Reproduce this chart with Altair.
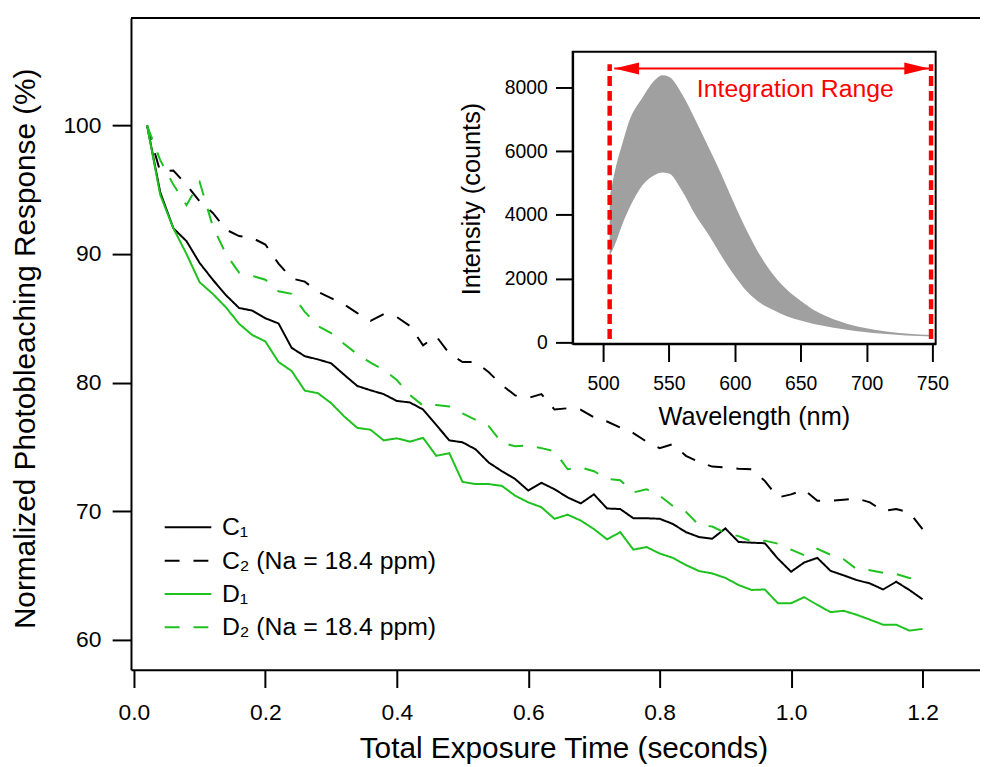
import altair as alt
import pandas as pd

# ---------------- data ----------------
time_s = [round(0.02 * k, 2) for k in range(1, 61)]

c1 = [100.0, 94.8, 92.0, 91.0, 89.3, 88.0, 86.8, 85.8, 85.6, 85.0,
      84.6, 82.7, 82.05, 81.8, 81.5, 80.6, 79.73, 79.4, 79.1, 78.57,
      78.45, 77.9, 76.7, 75.5, 75.35, 74.8, 73.77, 73.1, 72.5, 71.6,
      72.2, 71.7, 71.06, 70.6, 71.3, 70.2, 70.16, 69.44, 69.44, 69.4,
      69.0, 68.36, 67.98, 67.85, 68.65, 67.6, 67.54, 67.5, 66.3, 65.28,
      66.0, 66.36, 65.35, 65.0, 64.63, 64.37, 63.9, 64.5, 63.86, 63.14]

c2 = [100.0, 96.4, 96.5, 95.37, 94.1, 93.2, 91.9, 91.4, 91.25, 90.74,
      89.25, 88.1, 87.85, 87.05, 86.57, 86.07, 85.4, 84.8, 85.32, 85.1,
      84.4, 82.9, 83.6, 82.25, 81.6, 81.6, 80.8, 79.8, 79.0, 78.8,
      79.1, 77.9, 78.0, 77.88, 77.3, 76.97, 76.5, 76.07, 75.4, 74.9,
      75.2, 74.3, 73.8, 73.46, 73.4, 73.3, 73.25, 72.35, 71.06, 71.3,
      71.65, 70.8, 70.8, 70.88, 70.98, 70.68, 70.0, 70.16, 69.9, 68.6]

d1 = [100.0, 94.6, 92.0, 90.0, 87.8, 86.9, 85.85, 84.57, 83.7, 83.2,
      81.6, 80.9, 79.37, 79.17, 78.4, 77.36, 76.47, 76.33, 75.5, 75.66,
      75.4, 75.7, 74.3, 74.5, 72.27, 72.1, 72.1, 71.96, 71.2, 70.68,
      70.3, 69.4, 69.72, 69.26, 68.6, 67.8, 68.36, 67.0, 67.2, 66.7,
      66.36, 65.8, 65.33, 65.15, 64.8, 64.25, 63.86, 63.9, 62.83, 62.83,
      63.3, 62.7, 62.14, 62.24, 61.93, 61.55, 61.16, 61.16, 60.7, 60.83]

d2 = [100.0, 97.3, 95.4, 93.8, 95.6, 92.15, 90.0, 88.55, 88.3, 88.0,
      87.1, 86.9, 85.5, 84.4, 83.85, 83.0, 82.2, 81.55, 81.0, 80.2,
      79.03, 78.2, 78.26, 78.13, 77.6, 77.1, 76.6, 75.3, 75.05, 75.1,
      74.9, 74.66, 73.25, 73.4, 73.1, 72.5, 72.4, 71.45, 71.7, 71.2,
      70.4, 69.95, 68.9, 68.8, 68.3, 68.05, 67.64, 67.7, 67.46, 67.0,
      66.56, 67.07, 66.6, 66.25, 65.48, 65.4, 65.2, 65.1, 64.8, 64.68]

series_names = ["C\u2081", "C\u2082 (Na = 18.4 ppm)", "D\u2081", "D\u2082 (Na = 18.4 ppm)"]
series_values = [c1, c2, d1, d2]
series_colors = ["#000000", "#000000", "#1ec21e", "#1ec21e"]
series_dashes = [[1, 0], [15, 14], [1, 0], [15, 14]]

x_ticks = [0.0, 0.2, 0.4, 0.6, 0.8, 1.0, 1.2]
y_ticks = [60, 70, 80, 90, 100]

# inset: envelope of the spectra band
wavelength_nm = [505, 510, 515, 520, 530, 540, 545, 550, 560, 570, 580, 590,
                 600, 610, 620, 630, 640, 650, 660, 670, 680, 690, 700, 710,
                 720, 730, 740, 750]
spectrum_upper = [4550, 5560, 6290, 6960, 7690, 8260, 8385, 8340, 7790, 6990,
                  6130, 5250, 4310, 3430, 2670, 2080, 1630, 1300, 1010, 800,
                  645, 520, 435, 365, 310, 270, 240, 220]
spectrum_lower = [2700, 3170, 3740, 4210, 4935, 5270, 5330, 5300, 4750, 4000,
                  3380, 2700, 2080, 1560, 1215, 990, 800, 675, 570, 490,
                  415, 355, 310, 270, 240, 210, 190, 170]
inset_x_ticks = [500, 550, 600, 650, 700, 750]
inset_y_ticks = [0, 2000, 4000, 6000, 8000]

range_edges_nm = [505, 749]
range_line_bottom = 100
range_line_top = 8730
arrow_tips_nm = [508.5, 747.5]
arrow_level = 8600
range_label = "Integration Range"
range_label_nm = 646
range_label_level = 7950

# ---------------- layout ----------------
FONT = "Liberation Sans"
W, H = 856, 657

x_main = alt.Scale(domain=[-0.0045, 1.2875], nice=False, zero=False)
y_main = alt.Scale(domain=[57.66, 108.36], nice=False, zero=False)

x_inset = alt.Scale(domain=[476.9, 752.5], range=[445.3, 811.3], nice=False, zero=False)
y_inset = alt.Scale(domain=[-50, 9124], range=[328.3, 34], nice=False, zero=False)

x_axis_main = alt.Axis(values=x_ticks, format=".1f", orient="bottom",
                       title="Total Exposure Time (seconds)", titleFontSize=30,
                       titleX=436, titleY=88.5, titleBaseline="alphabetic",
                       titleAlign="center", labelFontSize=23,
                       labelBaseline="alphabetic", labelPadding=32.7,
                       tickSize=18, labelFlush=False)
y_axis_main = alt.Axis(values=y_ticks, format="d", orient="left",
                       title="Normalized Photobleaching Response (%)",
                       titleFontSize=30, titleX=-97, titleY=333,
                       titleBaseline="alphabetic", titleAlign="center",
                       titleAngle=270, labelFontSize=23, labelPadding=11.3,
                       tickSize=19, labelFlush=False)

x_axis_inset = alt.Axis(values=inset_x_ticks, format="d", orient="bottom",
                        offset=-328.7, title="Wavelength (nm)",
                        titleFontSize=25.5, titleX=628, titleY=81.7,
                        titleBaseline="alphabetic", titleAlign="center",
                        labelFontSize=19.5, labelBaseline="alphabetic",
                        labelPadding=28.7, tickSize=18, labelFlush=False)
y_axis_inset = alt.Axis(values=inset_y_ticks, format="d", orient="left",
                        offset=-445.3, title="Intensity (counts)",
                        titleFontSize=25.5, titleX=-94, titleY=182,
                        titleBaseline="alphabetic", titleAlign="center",
                        titleAngle=270, labelFontSize=19.5, labelPadding=8.3,
                        tickSize=17.3, labelFlush=False)

legend = alt.Legend(
    title=None, orient="none", legendX=33, legendY=501,
    symbolType="stroke", symbolSize=2209, symbolStrokeWidth=2,
    labelFontSize=25, labelFont=FONT, labelColor="black", labelLimit=500,
    rowPadding=7.6, clipHeight=25, labelOffset=9.7, padding=0,
)

# ---------------- main panel ----------------
rows = []
for name, vals in zip(series_names, series_values):
    for t, v in zip(time_s, vals):
        rows.append({"time": t, "value": v, "series": name})
df_lines = pd.DataFrame(rows)

lines = alt.Chart(df_lines).mark_line(strokeWidth=2, strokeCap="butt").encode(
    x=alt.X("time:Q", scale=x_main, axis=x_axis_main),
    y=alt.Y("value:Q", scale=y_main, axis=y_axis_main),
    color=alt.Color("series:N", scale=alt.Scale(domain=series_names, range=series_colors),
                    legend=legend),
    strokeDash=alt.StrokeDash("series:N",
                              scale=alt.Scale(domain=series_names, range=series_dashes),
                              legend=legend),
)

dummy = pd.DataFrame({"a": [0]})
top_rule = alt.Chart(dummy).mark_rule(color="black", strokeWidth=2).encode(
    x=alt.value(0), x2=alt.value(W), y=alt.value(0)
)

main = alt.layer(lines, top_rule)

# ---------------- inset ----------------
df_spec = pd.DataFrame({"wl": wavelength_nm, "upper": spectrum_upper, "lower": spectrum_lower})
band = alt.Chart(df_spec).mark_area(color="#a0a0a0", opacity=1, interpolate="monotone").encode(
    x=alt.X("wl:Q", scale=x_inset, axis=x_axis_inset),
    y=alt.Y("upper:Q", scale=y_inset, axis=y_axis_inset),
    y2="lower:Q",
)

frame = alt.Chart(dummy).mark_rect(filled=False, stroke="black", strokeWidth=2).encode(
    x=alt.X(datum=x_inset.domain[0], type="quantitative", scale=x_inset, axis=x_axis_inset),
    x2=alt.X2(datum=x_inset.domain[1]),
    y=alt.Y(datum=y_inset.domain[0], type="quantitative", scale=y_inset, axis=y_axis_inset),
    y2=alt.Y2(datum=y_inset.domain[1]),
)

df_edges = pd.DataFrame({"nm": range_edges_nm})
red_lines = alt.Chart(df_edges).mark_rule(color="#ff0000", strokeWidth=4.5,
                                          strokeDash=[10, 5]).encode(
    x=alt.X("nm:Q", scale=x_inset, axis=x_axis_inset),
    y=alt.Y(datum=range_line_bottom, type="quantitative", scale=y_inset, axis=y_axis_inset),
    y2=alt.Y2(datum=range_line_top),
)

df_arrow = pd.DataFrame({"x1": [arrow_tips_nm[0]], "x2": [arrow_tips_nm[1]], "lvl": [arrow_level]})
arrow_line = alt.Chart(df_arrow).mark_rule(color="#ff0000", strokeWidth=2).encode(
    x=alt.X("x1:Q", scale=x_inset, axis=x_axis_inset),
    x2="x2:Q",
    y=alt.Y("lvl:Q", scale=y_inset, axis=y_axis_inset),
)

head_left = alt.Chart(df_arrow).mark_point(
    shape="M0,0L2,-0.48L2,0.48Z", size=625, filled=True, color="#ff0000", opacity=1
).encode(
    x=alt.X("x1:Q", scale=x_inset, axis=x_axis_inset),
    y=alt.Y("lvl:Q", scale=y_inset, axis=y_axis_inset),
)
head_right = alt.Chart(df_arrow).mark_point(
    shape="M0,0L-2,-0.48L-2,0.48Z", size=625, filled=True, color="#ff0000", opacity=1
).encode(
    x=alt.X("x2:Q", scale=x_inset, axis=x_axis_inset),
    y=alt.Y("lvl:Q", scale=y_inset, axis=y_axis_inset),
)

label = alt.Chart(dummy).mark_text(
    text=range_label, color="#ff0000", fontSize=25, font=FONT,
    align="center", baseline="middle"
).encode(
    x=alt.X(datum=range_label_nm, type="quantitative", scale=x_inset, axis=x_axis_inset),
    y=alt.Y(datum=range_label_level, type="quantitative", scale=y_inset, axis=y_axis_inset),
)

inset = alt.layer(band, frame, red_lines, arrow_line, head_left, head_right, label)

chart = (
    alt.layer(main, inset)
    .resolve_scale(x="independent", y="independent")
    .properties(
        width=W, height=H,
        autosize=alt.AutoSizeParams(type="none"),
        padding={"left": 124, "top": 7, "right": 0, "bottom": 95},
    )
    .configure_view(stroke=None)
    .configure_axis(grid=False, domainColor="black", domainWidth=2,
                    tickColor="black", tickWidth=2, labelColor="black",
                    titleColor="black", labelFont=FONT, titleFont=FONT,
                    titleFontWeight="normal")
)

chart.save("out.html", embed_options={"renderer": "svg", "actions": False})
